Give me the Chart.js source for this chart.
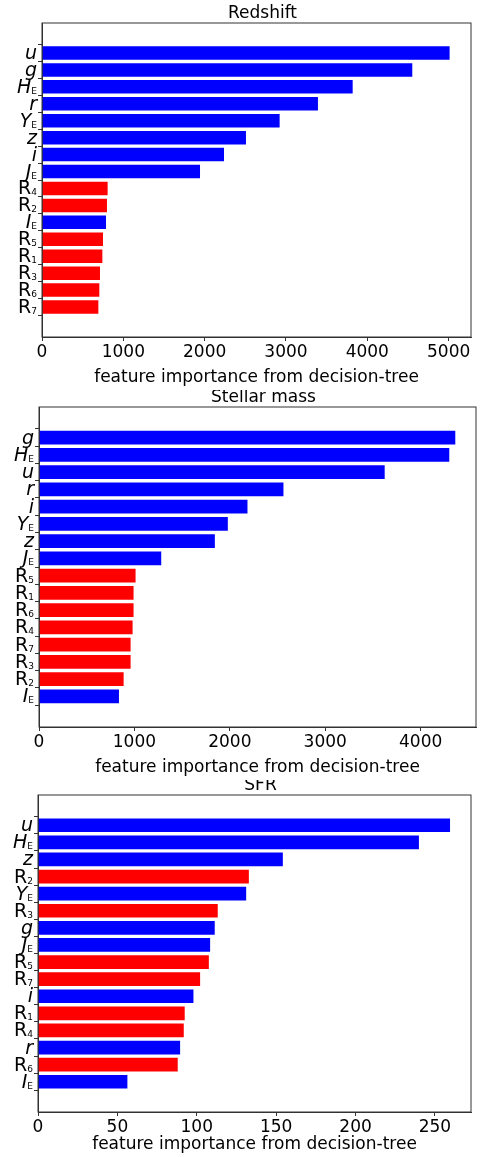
<!DOCTYPE html>
<html><head><meta charset="utf-8">
<script src="https://cdn.jsdelivr.net/npm/chart.js@4"></script>
<style>
body{margin:0;background:#fff;width:481px;height:1157px;position:relative;overflow:hidden}
.box{position:absolute;left:0;width:481px}
</style></head><body>
<div class="box" style="top:0;height:390px"><canvas id="c1"></canvas></div>
<div class="box" style="top:390px;height:390px"><canvas id="c2"></canvas></div>
<div class="box" style="top:780px;height:377px"><canvas id="c3"></canvas></div>
<script>
var zLabels = ['u','g','H_E','r','Y_E','z','i','J_E','R_4','R_2','I_E','R_5','R_1','R_3','R_6','R_7'];
var zValues = [5012,4553,3820,3393,2922,2508,2238,1943,807,799,787,750,742,713,705,693];
var mLabels = ['g','H_E','u','r','i','Y_E','z','J_E','R_5','R_1','R_6','R_4','R_7','R_3','R_2','I_E'];
var mValues = [4363,4300,3623,2562,2185,1979,1843,1281,1012,991,991,981,960,960,887,838];
var sLabels = ['u','H_E','z','R_2','Y_E','R_3','g','J_E','R_5','R_7','i','R_1','R_4','r','R_6','I_E'];
var sValues = [259.5,239.9,154.2,132.8,131.1,113.2,111.3,108.4,107.6,102.1,97.9,92.4,91.8,89.5,88.0,56.3];
var zTicks = [0,1000,2000,3000,4000,5000];
var mTicks = [0,1000,2000,3000,4000];
var sTicks = [0,50,100,150,200,250];
var xTitle = 'feature importance from decision-tree';

var FONT = '"DejaVu Sans", sans-serif';

var labelPlugin = {
  id: 'labels',
  afterDraw: function(chart, args, opts){
    var ctx = chart.ctx, a = chart.chartArea, y = chart.scales.y;
    ctx.save();
    ctx.strokeStyle = '#333'; ctx.lineWidth = 1;
    ctx.strokeRect(a.left, a.top, a.right - a.left, a.bottom - a.top);
    ctx.fillStyle = '#000';
    ctx.textBaseline = 'alphabetic';
    ctx.font = '17px ' + FONT; ctx.textAlign = 'center';
    ctx.fillText(opts.title, (a.left + a.right) / 2 + 6, a.top - 5);
    opts.labels.forEach(function(l, i){
      var py = y.getPixelForValue(i) + 6;
      var parts = l.split('_'), main = parts[0], sub = parts[1] || '';
      var isR = main === 'R';
      ctx.font = '9px ' + FONT;
      var sw = ctx.measureText(sub).width;
      var x = a.left - 5;
      ctx.textAlign = 'right';
      if (sub) ctx.fillText(sub, x, py + 1);
      ctx.font = (isR ? '' : 'italic ') + '19px ' + FONT;
      ctx.fillText(main, x - sw, py);
    });
    ctx.restore();
  }
};

function makeChart(id, labels, values, xmax, ticks, top, xh, right, left, title){
  new Chart(document.getElementById(id), {
    type: 'bar',
    data: {
      datasets: [{
        data: values.map(function(v, i){ return {x: v, y: i}; }),
        backgroundColor: labels.map(function(l){ return l[0] === 'R' ? '#ff0000' : '#0000ff'; }),
        borderWidth: 0,
        barPercentage: 0.8,
        categoryPercentage: 1
      }]
    },
    plugins: [labelPlugin],
    options: {
      indexAxis: 'y',
      responsive: true,
      maintainAspectRatio: false,
      animation: false,
      layout: {padding: {top: top, right: right, left: 0, bottom: 0}},
      plugins: {legend: {display: false}, tooltip: {enabled: false},
        labels: {labels: labels, title: title}},
      scales: {
        x: {
          type: 'linear', min: 0, max: xmax,
          afterBuildTicks: function(s){ s.ticks = ticks.map(function(v){ return {value: v}; }); },
          ticks: {color: '#000', font: {family: FONT, size: 17}, padding: 1,
            callback: function(v){ return String(v); }},
          grid: {drawOnChartArea: false, tickLength: 4, color: '#333'},
          border: {color: '#333'},
          title: {display: true, text: xTitle, color: '#000', font: {family: FONT, size: 17}, padding: {top: 0, bottom: 2}},
          afterFit: function(s){ s.height = xh; }
        },
        y: {
          type: 'linear', reverse: true, min: -1.19, max: 16.19,
          ticks: {stepSize: 1, callback: function(){ return ''; }},
          afterBuildTicks: function(s){ s.ticks = s.ticks.filter(function(t){ return t.value >= 0 && t.value <= 15; }); },
          grid: {drawOnChartArea: false, tickLength: 4, color: '#333'},
          border: {color: '#333'},
          afterFit: function(s){ s.width = left; }
        }
      }
    }
  });
}

makeChart('c1', zLabels, zValues, 5275, zTicks, 23, 53, 10, 42, 'Redshift');
makeChart('c2', mLabels, mValues, 4580, mTicks, 17, 53, 5, 39, 'Stellar mass');
makeChart('c3', sLabels, sValues, 272.7, sTicks, 15, 45, 10, 38, 'SFR');
</script>
</body></html>
